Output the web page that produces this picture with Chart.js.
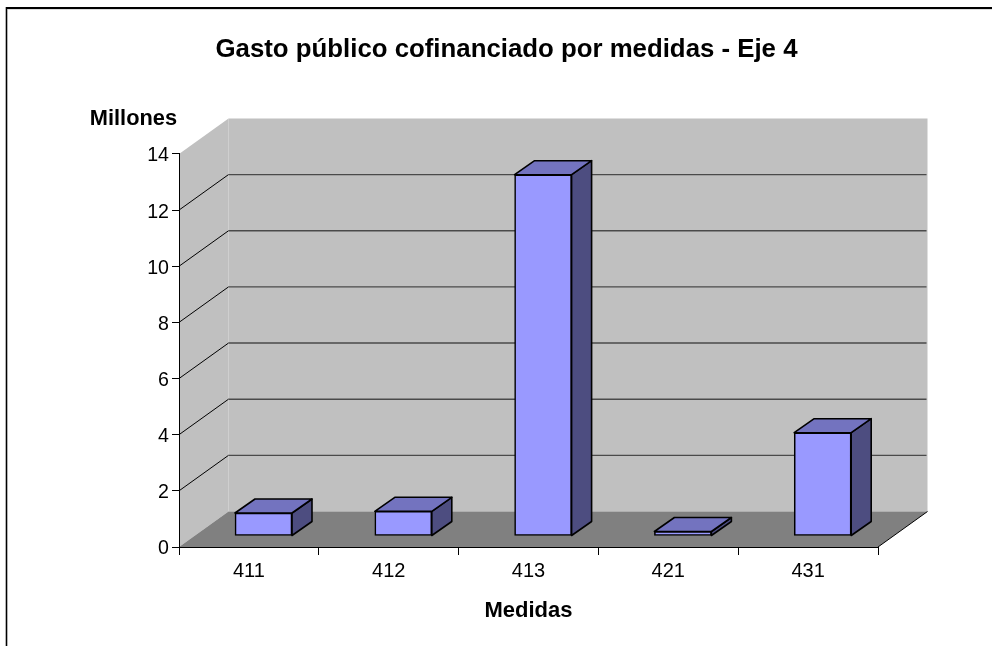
<!DOCTYPE html>
<html>
<head>
<meta charset="utf-8">
<style>html,body{margin:0;padding:0;background:#fff}canvas{display:block}</style>
<script src="https://cdn.jsdelivr.net/npm/chart.js@4"></script>
</head>
<body>
<canvas id="c" width="992" height="646"></canvas>
<script>
const categories = ['411', '412', '413', '421', '431'];
const values = [0.82, 0.88, 12.87, 0.16, 3.68];
const gridValues = [2, 4, 6, 8, 10, 12];
const chartTitle = 'Gasto público cofinanciado por medidas - Eje 4';
const xTitle = 'Medidas';
const yTitle = 'Millones';

const FONT = '"Liberation Sans", Arial, sans-serif';
const WALL = {dx: 49.5, dy: 35.5};
const BAR_SHIFT = {dx: 14.6, dy: 11};
const BAR_DEPTH = {dx: 20, dy: 14};

function poly(ctx, pts, fill, stroke, lw) {
  ctx.beginPath();
  pts.forEach((p, i) => i ? ctx.lineTo(p[0], p[1]) : ctx.moveTo(p[0], p[1]));
  ctx.closePath();
  if (fill) { ctx.fillStyle = fill; ctx.fill(); }
  if (stroke) { ctx.strokeStyle = stroke; ctx.lineWidth = lw; ctx.lineJoin = 'round'; ctx.stroke(); }
}
function seg(ctx, x1, y1, x2, y2, color, lw) {
  ctx.beginPath(); ctx.moveTo(x1, y1); ctx.lineTo(x2, y2);
  ctx.strokeStyle = color; ctx.lineWidth = lw; ctx.stroke();
}

const scene3d = {
  id: 'scene3d',
  beforeDraw(chart) {
    const {ctx, chartArea: a, scales: {y}} = chart;
    const d = WALL;
    ctx.save();
    // outer frame
    seg(ctx, 6.5, 8, 992, 8, '#000', 2);
    seg(ctx, 6.5, 7, 6.5, 646, '#000', 1.6);
    seg(ctx, 8, 9.5, 992, 9.5, '#ddd', 1);
    // walls and floor
    poly(ctx, [[a.left + d.dx, a.top - d.dy], [a.right + d.dx, a.top - d.dy], [a.right + d.dx, a.bottom - d.dy], [a.left + d.dx, a.bottom - d.dy]], '#C0C0C0');
    poly(ctx, [[a.left, a.top], [a.left + d.dx, a.top - d.dy], [a.left + d.dx, a.bottom - d.dy], [a.left, a.bottom]], '#C0C0C0');
    poly(ctx, [[a.left, a.bottom], [a.left + d.dx, a.bottom - d.dy], [a.right + d.dx, a.bottom - d.dy], [a.right, a.bottom]], '#808080');
    seg(ctx, a.right, a.bottom, a.right + d.dx, a.bottom - d.dy, '#000', 1);
    // gridlines
    gridValues.forEach(v => {
      const py = y.getPixelForValue(v);
      seg(ctx, a.left, py, a.left + d.dx, py - d.dy, '#000', 1);
      seg(ctx, a.left + d.dx, py - d.dy, a.right + d.dx - 1, py - d.dy, '#4a4a4a', 1.4);
    });
    ctx.restore();
  },
  beforeDatasetDraw(chart, args) {
    const {ctx} = chart;
    ctx.save();
    ctx.translate(BAR_SHIFT.dx, -BAR_SHIFT.dy);
    chart.getDatasetMeta(args.index).data.forEach(el => {
      const {x, y, base, width} = el.getProps(['x', 'y', 'base', 'width'], true);
      const l = x - width / 2, r = x + width / 2;
      const b = BAR_DEPTH;
      poly(ctx, [[r, y], [r + b.dx, y - b.dy], [r + b.dx, base - b.dy], [r, base]], '#4D4D80', '#000', 1.6);
      poly(ctx, [[l, y], [l + b.dx, y - b.dy], [r + b.dx, y - b.dy], [r, y]], '#7373BF', '#000', 1.6);
    });
  },
  afterDatasetDraw(chart) { chart.ctx.restore(); },
  afterDraw(chart) {
    const {ctx, chartArea: a} = chart;
    ctx.save();
    ctx.font = 'bold 21.8px ' + FONT;
    ctx.fillStyle = '#000';
    ctx.textAlign = 'right';
    ctx.textBaseline = 'middle';
    ctx.fillText(yTitle, a.left - 2, a.top - 35);
    ctx.restore();
  }
};

new Chart(document.getElementById('c'), {
  type: 'bar',
  data: {
    labels: categories,
    datasets: [{
      data: values,
      backgroundColor: '#9999FF',
      borderColor: '#000',
      borderWidth: 1.6,
      borderSkipped: false,
      barThickness: 57,
      clip: false
    }]
  },
  options: {
    responsive: false,
    animation: false,
    events: [],
    layout: {autoPadding: false, padding: {left: 135, right: 114, top: 0, bottom: 0}},
    plugins: {
      legend: {display: false},
      tooltip: {enabled: false},
      title: {
        display: true,
        text: chartTitle,
        color: '#000',
        font: {family: FONT, size: 25.8, weight: 'bold', lineHeight: 1.2},
        padding: {top: 34, bottom: 89}
      }
    },
    scales: {
      x: {
        afterFit(s) { s.height = 99; },
        grid: {drawOnChartArea: false, drawTicks: true, tickLength: 8, color: '#000', lineWidth: 1},
        border: {color: '#000', width: 1},
        ticks: {color: '#000', padding: 4, maxRotation: 0, font: {family: FONT, size: 20}},
        title: {display: true, text: xTitle, color: '#000', padding: {top: 0, bottom: 22}, font: {family: FONT, size: 22, weight: 'bold', lineHeight: 1.2}}
      },
      y: {
        min: 0,
        max: 14,
        afterFit(s) { s.width = 44; },
        grid: {drawOnChartArea: false, drawTicks: true, tickLength: 7, color: '#000', lineWidth: 1},
        border: {color: '#000', width: 1},
        ticks: {stepSize: 2, color: '#000', padding: 3, labelOffset: 2, font: {family: FONT, size: 19.6}}
      }
    }
  },
  plugins: [scene3d]
});
</script>
</body>
</html>
